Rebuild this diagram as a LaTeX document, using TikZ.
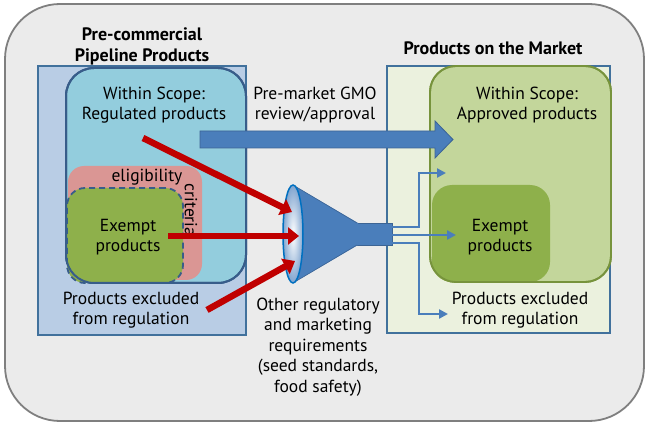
\documentclass[tikz,border=0pt]{standalone}
\usepackage{fontspec}
\setmainfont{PT Sans}
\usetikzlibrary{arrows.meta,shapes.geometric,shadings}
\definecolor{bgout}{HTML}{EBEBEB}
\definecolor{bgborder}{HTML}{7F7F7F}
\definecolor{leftfill}{HTML}{B9CDE5}
\definecolor{boxblue}{HTML}{41719C}
\definecolor{regfill}{HTML}{93CDDD}
\definecolor{regborder}{HTML}{385D8A}
\definecolor{pinkfill}{HTML}{DA9694}
\definecolor{greenfill}{HTML}{8EB04B}
\definecolor{rightfill}{HTML}{EBF1DE}
\definecolor{apprfill}{HTML}{C3D69B}
\definecolor{apprborder}{HTML}{77933C}
\definecolor{arrowblue}{HTML}{4A7EBB}
\definecolor{arrowblueb}{HTML}{3C6494}
\definecolor{redarrow}{HTML}{C00000}
\definecolor{mouthblue}{HTML}{0070C0}
\begin{document}
\begin{tikzpicture}[x=1pt,y=-1pt,
  every node/.style={inner sep=0pt, outer sep=0pt},
  txt/.style={align=center, font=\fontsize{17.5}{20.5}\selectfont},
  ttl/.style={align=center, font=\fontsize{18}{21}\selectfont\bfseries},
  box/.style={anchor=north west, line width=1.6pt},
  redarr/.style={draw=redarrow, line width=6.5pt, -{Triangle[length=11pt,width=17pt]}},
  bluearr/.style={draw=arrowblue, line width=2.6pt, -{Triangle[length=9pt,width=9pt]}},
]
\useasboundingbox (0,0) rectangle (649,425);
% outer background
\node[box, fill=bgout, draw=bgborder, line width=1.8pt, rounded corners=55pt,
      minimum width=639pt, minimum height=417pt] (outer) at (5,4) {};

% ---------- left side ----------
\node[box, fill=leftfill, draw=boxblue, minimum width=208pt, minimum height=269pt] (left) at (38,66) {};
\node[box, fill=regfill, draw=regborder, line width=2pt, rounded corners=28pt,
      minimum width=180pt, minimum height=215pt] (reg) at (66,68) {};
\node[box, fill=pinkfill, rounded corners=16pt, minimum width=134pt, minimum height=114pt] (pink) at (68,166) {};
\node[box, fill=greenfill, draw=regborder, dashed, dash pattern=on 6pt off 4pt, line width=1.8pt,
      rounded corners=18pt, minimum width=116pt, minimum height=95pt] (exL) at (67,188) {};
\node[box, draw=regborder, line width=2pt, rounded corners=28pt,
      minimum width=180pt, minimum height=215pt] (regb) at (66,68) {};

\node[ttl] (ttlL) at (142,46) {Pre-commercial\\Pipeline Products};
\node[txt] (regtxt) at (154,105) {Within Scope:\\Regulated products};
\node[txt] (elig) at (147,177) {eligibility};
\node[txt, rotate=-90] (crit) at (191,210) {criteria};
\node[txt] (exLtxt) at (128,237) {Exempt\\products};
\node[txt] (exclL) at (131,310) {Products excluded\\from regulation};

% ---------- right side ----------
\node[box, fill=rightfill, draw=boxblue, minimum width=223pt, minimum height=267pt] (right) at (387,66) {};
\node[box, fill=apprfill, draw=apprborder, line width=1.8pt, rounded corners=26pt,
      minimum width=181pt, minimum height=216pt] (appr) at (430,66) {};
\node[box, fill=greenfill, rounded corners=20pt, minimum width=118pt, minimum height=97pt] (exR) at (432,185) {};
\node[box, draw=apprborder, line width=1.8pt, rounded corners=26pt,
      minimum width=181pt, minimum height=216pt] (apprb) at (430,66) {};

\node[ttl] (ttlR) at (493,48) {Products on the Market};
\node[txt] (apprtxt) at (527,105) {Within Scope:\\Approved products};
\node[txt] (exRtxt) at (500,237) {Exempt\\products};
\node[txt] (exclR) at (520,310) {Products excluded\\from regulation};

% ---------- big arrow ----------
\node[txt] (gmo) at (315,105) {Pre-market GMO\\review/approval};
\draw[fill=arrowblue, draw=arrowblueb, line width=0.8pt]
  (200,131) -- (435,131) -- (435,121) -- (453,139.5) -- (435,158) -- (435,148) -- (200,148) -- cycle;

% ---------- funnel ----------
\node[fill=arrowblue, draw=arrowblueb, line width=0.6pt, minimum width=35pt, minimum height=22pt] (spout) at (374.5,234) {};
\fill[arrowblue] (293,185) -- (358,223) -- (358,245) -- (293,283) -- cycle;
\draw[arrowblueb, line width=0.6pt] (293,185) -- (357,223) (293,283) -- (357,245);
\node[ellipse, draw=mouthblue, line width=1.5pt, inner color=white, outer color=arrowblue!70,
      minimum width=20pt, minimum height=98pt] (mouth) at (293,234) {};

\node[txt] (other) at (318,347) {Other regulatory\\and marketing\\requirements\\(seed standards,\\food safety)};

% ---------- blue output arrows ----------
\coordinate (o1) at (390,227);
\coordinate (o2) at (390,235);
\coordinate (o3) at (390,243);
\coordinate (t1) at (446,173);
\coordinate (t2) at (456,235);
\coordinate (t3) at (448,314);
\draw[bluearr] (o1) -- (419,227) |- (t1);
\draw[bluearr] (o2) -- (t2);
\draw[bluearr] (o3) -- (419,243) |- (t3);

% ---------- red arrows ----------
\coordinate (r1s) at (143,138);
\coordinate (r1e) at (292,212);
\coordinate (r2s) at (168,236);
\coordinate (r2e) at (299,236);
\coordinate (r3s) at (207,310);
\coordinate (r3e) at (295,261);
\draw[redarr] (r1s) -- (r1e);
\draw[redarr] (r2s) -- (r2e);
\draw[redarr] (r3s) -- (r3e);
\end{tikzpicture}
\end{document}
